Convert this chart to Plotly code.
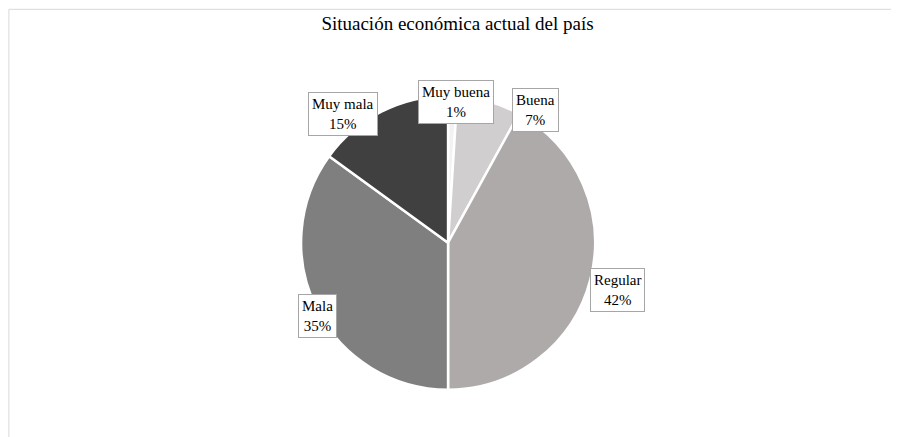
import plotly.graph_objects as go

labels = ["Muy buena", "Buena", "Regular", "Mala", "Muy mala"]
values = [1, 7, 42, 35, 15]
colors = ["#f2f2f2", "#d0cece", "#aeaaaa", "#7f7f7f", "#404040"]

# callout box centres, in pixels from the top left
label_pos = [(448, 72), (527, 80), (637, 282), (290, 330), (335, 84)]

W, H = 899, 437

fig = go.Figure(go.Pie(
    labels=labels, values=values, sort=False, direction="clockwise",
    rotation=0, marker=dict(colors=colors, line=dict(color="white", width=2.5)),
    textinfo="none", hoverinfo="label+percent",
    domain=dict(x=[0.326, 0.653], y=[0.126, 0.8]),
))

for lab, val, (px, py) in zip(labels, values, label_pos):
    fig.add_annotation(
        x=px / W, y=1 - py / H, xref="paper", yref="paper",
        text=f"{lab}<br>{val}%", showarrow=False,
        font=dict(family="Liberation Serif", size=15, color="#000"),
        bgcolor="white", bordercolor="#a6a6a6", borderwidth=1, borderpad=3,
    )

fig.add_shape(type="rect", xref="paper", yref="paper", x0=0.001, y0=0.002,
              x1=0.997, y1=0.997, line=dict(color="#d9d9d9", width=1))

fig.update_layout(
    width=W, height=H, margin=dict(l=0, r=0, t=0, b=0),
    paper_bgcolor="white", showlegend=False,
    title=dict(text="Situación económica actual del país", x=0.5, y=0.965,
               xanchor="center", yanchor="middle",
               font=dict(family="Liberation Serif", size=19, color="#000")),
)

fig.write_html("out.html")
